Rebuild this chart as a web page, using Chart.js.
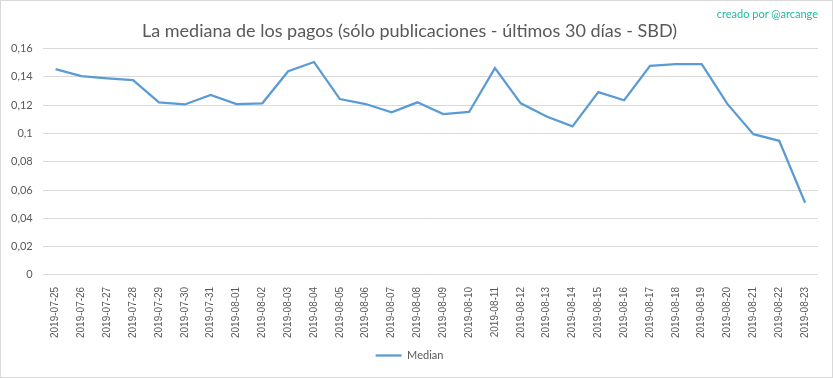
<!DOCTYPE html>
<html>
<head>
<meta charset="utf-8">
<script src="https://cdn.jsdelivr.net/npm/chart.js@4"></script>
<style>
  html, body { margin: 0; padding: 0; background: #fff; }
  #wrap { width: 833px; height: 378px; box-sizing: border-box; border: 1px solid #d9d9d9; position: relative; }
  #credit { position: absolute; top: 6px; right: 14px; font: 11px Lato, sans-serif; color: #1abc9c; }
</style>
</head>
<body>
<div id="wrap">
  <canvas id="chart"></canvas>
  <div id="credit">creado por @arcange</div>
</div>
<script>
// Fechas y medianas (SBD)
const dates = [
  '2019-07-25', '2019-07-26', '2019-07-27', '2019-07-28', '2019-07-29', '2019-07-30',
  '2019-07-31', '2019-08-01', '2019-08-02', '2019-08-03', '2019-08-04', '2019-08-05',
  '2019-08-06', '2019-08-07', '2019-08-08', '2019-08-09', '2019-08-10', '2019-08-11',
  '2019-08-12', '2019-08-13', '2019-08-14', '2019-08-15', '2019-08-16', '2019-08-17',
  '2019-08-18', '2019-08-19', '2019-08-20', '2019-08-21', '2019-08-22', '2019-08-23'
];
const median = [
  0.1455, 0.1405, 0.1390, 0.1377, 0.1220, 0.1205,
  0.1272, 0.1207, 0.1213, 0.1440, 0.1505, 0.1243,
  0.1208, 0.1150, 0.1220, 0.1137, 0.1152, 0.1462,
  0.1213, 0.1120, 0.1050, 0.1292, 0.1235, 0.1478,
  0.1490, 0.1490, 0.1207, 0.0995, 0.0948, 0.0510
];
const yTicksMax = 0.16;
const yTicksStep = 0.02;

const textGray = '#595959';
const gridGray = '#d9d9d9';

new Chart(document.getElementById('chart'), {
  type: 'line',
  data: {
    labels: dates,
    datasets: [{
      label: 'Median',
      data: median,
      borderColor: '#5b9bd5',
      backgroundColor: '#5b9bd5',
      borderWidth: 2.25,
      pointRadius: 0,
      tension: 0,
      fill: false
    }]
  },
  options: {
    responsive: true,
    maintainAspectRatio: false,
    animation: false,
    layout: { padding: { top: 9, left: 0, right: 14, bottom: 6 } },
    plugins: {
      title: {
        display: true,
        text: 'La mediana de los pagos (sólo publicaciones - últimos 30 días - SBD)',
        color: textGray,
        font: { family: 'Lato', size: 18, weight: 'normal' },
        padding: { top: 10, bottom: 7 }
      },
      legend: {
        position: 'bottom',
        labels: {
          color: textGray,
          font: { family: 'Liberation Sans Narrow, Lato', size: 11 },
          usePointStyle: true,
          pointStyle: 'line',
          pointStyleWidth: 26,
          padding: 8
        }
      },
      tooltip: { enabled: false }
    },
    scales: {
      x: {
        offset: true,
        grid: { display: false },
        border: { display: false },
        ticks: {
          color: textGray,
          font: { family: 'Liberation Sans Narrow, Liberation Sans', size: 10 },
          maxRotation: 90,
          minRotation: 90,
          autoSkip: false,
          padding: 4
        }
      },
      y: {
        min: 0,
        max: yTicksMax,
        grid: { color: gridGray, drawTicks: false },
        border: { display: false },
        ticks: {
          stepSize: yTicksStep,
          color: textGray,
          font: { family: 'Lato', size: 11 },
          padding: 10,
          callback: v => String(parseFloat(v.toFixed(2))).replace('.', ',')
        }
      }
    }
  }
});
</script>
</body>
</html>
